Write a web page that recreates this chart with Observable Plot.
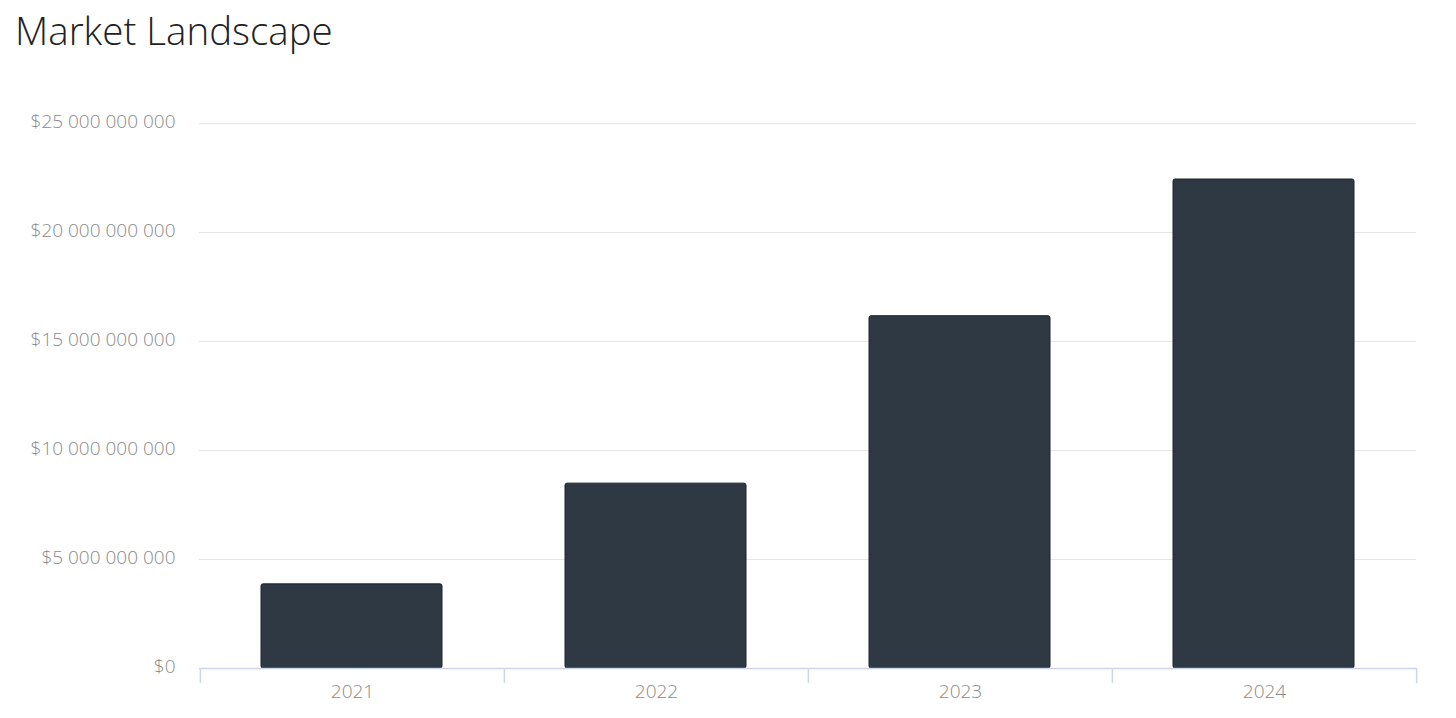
<!DOCTYPE html>
<html>
<head>
<meta charset="utf-8">
<script src="https://cdn.jsdelivr.net/npm/d3@7"></script>
<script src="https://cdn.jsdelivr.net/npm/@observablehq/plot@0.6"></script>
<style>
  html, body { margin: 0; padding: 0; background: #fff; }
  #title {
    box-sizing: border-box;
    height: 70px;
    padding: 10px 0 0 15px;
    font-family: "Open Sans", sans-serif;
    font-weight: 300;
    font-size: 38.5px;
    line-height: 40px;
    color: #222;
  }
  #chart svg { display: block; }
</style>
</head>
<body>
<div id="title">Market Landscape</div>
<div id="chart"></div>
<script>
const years = ["2021", "2022", "2023", "2024"];
const values = [3.86e9, 8.48e9, 16.16e9, 22.43e9];
const yTicks = [0, 5e9, 10e9, 15e9, 20e9, 25e9];

const data = years.map((year, i) => ({year, value: values[i]}));
const fmt = d => "$" + d3.format(",")(d).replace(/,/g, " ");

const W = 1456, H = 648;
const mL = 199, mR = 40, mT = 53, mB = 50;
const step = (W - mL - mR) / years.length;

const chart = Plot.plot({
  width: W,
  height: H,
  marginLeft: mL,
  marginRight: mR,
  marginTop: mT,
  marginBottom: mB,
  style: {fontFamily: "'Open Sans', sans-serif", fontSize: "19px", fontWeight: 300, background: "#fff"},
  x: {type: "band", domain: years, padding: 0, label: null},
  y: {domain: [0, 25e9], label: null},
  marks: [
    Plot.ruleY(yTicks.filter(d => d > 0), {stroke: "#e6e6e6", strokeWidth: 1}),
    Plot.axisY({ticks: yTicks, tickFormat: fmt, tickSize: 0, tickPadding: 24, dy: -2, fill: "#8a8a8a", fontSize: 19, label: null}),
    Plot.axisX({tickSize: 0, tickPadding: 16, fill: "#8a8a8a", fontSize: 19, label: null}),
    Plot.barY(data, {x: "year", y: "value", fill: "#2f3944", stroke: "#1c242c", strokeWidth: 1, rx: 2, insetLeft: 61, insetRight: 62}),
    Plot.ruleY([0], {stroke: "#ccd6eb", strokeWidth: 1.5}),
    Plot.ruleX(years, {x: d => d, dx: -step / 2, y1: 0, y2: 0, insetBottom: -15, stroke: "#ccd6eb", strokeWidth: 1.5}),
    Plot.ruleX(years.slice(-1), {x: d => d, dx: step / 2, y1: 0, y2: 0, insetBottom: -15, stroke: "#ccd6eb", strokeWidth: 1.5})
  ]
});
document.getElementById("chart").appendChild(chart);
</script>
</body>
</html>
